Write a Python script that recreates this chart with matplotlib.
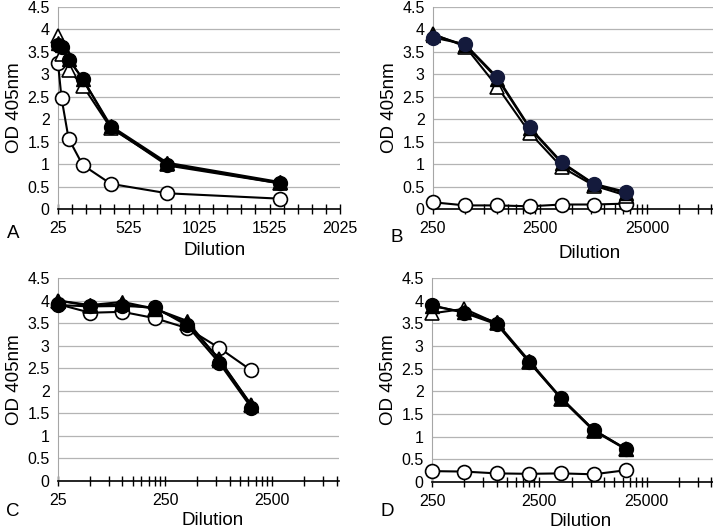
import matplotlib
matplotlib.use("Agg")
import matplotlib.pyplot as plt
import matplotlib.ticker as ticker
import numpy as np

plt.rcParams['font.family'] = ['Liberation Sans', 'DejaVu Sans']

# panel A (linear dilution axis)
dil_a = [25, 50, 100, 200, 400, 800, 1600]
a_open_circle = [3.25, 2.47, 1.57, 0.98, 0.56, 0.35, 0.23]
a_open_tri = [3.85, 3.45, 3.1, 2.75, 1.8, 1.0, 0.57]
a_fill_circle = [3.65, 3.6, 3.33, 2.9, 1.82, 0.97, 0.57]
a_fill_tri = [3.7, 3.65, 3.35, 2.9, 1.85, 1.03, 0.6]

# panel B
dil_b = [250, 500, 1000, 2000, 4000, 8000, 16000]
b_open_circle = [0.15, 0.08, 0.08, 0.06, 0.1, 0.1, 0.12]
b_open_tri = [3.9, 3.62, 2.72, 1.7, 0.93, 0.52, 0.3]
b_fill_circle = [3.82, 3.67, 2.93, 1.82, 1.04, 0.56, 0.38]
b_fill_tri = [3.88, 3.65, 2.9, 1.8, 1.02, 0.55, 0.35]

# panel C
dil_c = [25, 50, 100, 200, 400, 800, 1600]
c_open_circle = [3.92, 3.73, 3.75, 3.61, 3.39, 2.95, 2.45]
c_open_tri = [4.0, 3.88, 3.92, 3.82, 3.5, 2.7, 1.68]
c_fill_circle = [3.9, 3.87, 3.88, 3.85, 3.45, 2.62, 1.62]
c_fill_tri = [4.0, 3.9, 3.97, 3.82, 3.55, 2.68, 1.68]

# panel D
dil_d = [250, 500, 1000, 2000, 4000, 8000, 16000]
d_open_circle = [0.24, 0.23, 0.19, 0.18, 0.19, 0.17, 0.26]
d_open_tri = [3.72, 3.82, 3.5, 2.65, 1.83, 1.13, 0.72]
d_fill_circle = [3.9, 3.73, 3.48, 2.65, 1.85, 1.15, 0.73]
d_fill_tri = [3.88, 3.75, 3.52, 2.68, 1.85, 1.15, 0.73]

W, H = 713, 532
fig = plt.figure(figsize=(W / 100, H / 100), dpi=100)


def box(left, top, right, bottom):
    return [left / W, 1 - bottom / H, (right - left) / W, (bottom - top) / H]


def draw(ax, x, oc, ot, fc, ft, fc_color='black'):
    kw = dict(color='black', lw=1.5, clip_on=False)
    ax.plot(x, oc, '-o', mfc='white', mec='black', ms=10, mew=1.2, zorder=3, **kw)
    ax.plot(x, ot, '-^', mfc='white', mec='black', ms=10, mew=1.2, zorder=4, **kw)
    ax.plot(x, ft, '-^', mfc='black', mec='black', ms=10, zorder=5, **kw)
    ax.plot(x, fc, '-o', mfc=fc_color, mec=fc_color, ms=10, zorder=6, **kw)


def style(ax, xlab_pos):
    ax.set_ylim(0, 4.5)
    ax.set_yticks(np.arange(0, 4.51, 0.5))
    ax.yaxis.set_major_formatter(ticker.FuncFormatter(lambda v, p: '%g' % v))
    ax.grid(axis='y', color='#b4b4b4', lw=0.9)
    ax.set_axisbelow(True)
    for s in ['top', 'right']:
        ax.spines[s].set_visible(False)
    ax.spines['left'].set_color('#a6a6a6')
    ax.spines['bottom'].set_color('black')
    ax.spines['bottom'].set_linewidth(1.2)
    ax.tick_params(axis='y', length=0, labelsize=11.5, pad=6)
    ax.tick_params(axis='x', which='both', direction='inout', length=7, width=1, labelsize=11.5, pad=5)
    ax.set_ylabel('OD 405nm', fontsize=13.5, labelpad=3)
    ax.set_xlabel('Dilution', fontsize=13.5, va='center')
    ax.xaxis.set_label_coords(*xlab_pos)


def log_ticks(ax, base, lo, hi):
    majors = [base * 10 ** n for n in range(0, 4)]
    minors = [base * k * 10 ** n for n in range(0, 4) for k in range(2, 10)]
    ax.set_xscale('log')
    ax.set_xlim(lo, hi)
    ax.xaxis.set_major_locator(ticker.FixedLocator(majors))
    ax.xaxis.set_minor_locator(ticker.FixedLocator(minors))
    ax.xaxis.set_major_formatter(ticker.FuncFormatter(lambda v, p: '%d' % round(v)))
    ax.xaxis.set_minor_formatter(ticker.NullFormatter())


# A
axA = fig.add_axes(box(58, 7, 340, 209))
draw(axA, dil_a, a_open_circle, a_open_tri, a_fill_circle, a_fill_tri)
axA.set_xlim(25, 2025)
axA.xaxis.set_major_locator(ticker.MultipleLocator(500, offset=25))
axA.xaxis.set_minor_locator(ticker.MultipleLocator(100, offset=25))
style(axA, (0.557, -0.203))

# B
axB = fig.add_axes(box(433, 7, 713, 209))
draw(axB, dil_b, b_open_circle, b_open_tri, b_fill_circle, b_fill_tri, fc_color='#141a3c')
log_ticks(axB, 250, 250, 103500)
style(axB, (0.56, -0.218))

# C
axC = fig.add_axes(box(58, 278, 339, 481))
draw(axC, dil_c, c_open_circle, c_open_tri, c_fill_circle, c_fill_tri)
log_ticks(axC, 25, 25, 10500)
style(axC, (0.55, -0.197))

# D
axD = fig.add_axes(box(432, 278, 713, 482))
draw(axD, dil_d, d_open_circle, d_open_tri, d_fill_circle, d_fill_tri)
log_ticks(axD, 250, 250, 103500)
style(axD, (0.53, -0.192))

for lab, x, y in [('A', 13, 233), ('B', 397, 237), ('C', 13, 512), ('D', 387, 512)]:
    fig.text(x / W, 1 - y / H, lab, fontsize=13.5, ha='center', va='center')

fig.savefig('out.png', dpi=100)
